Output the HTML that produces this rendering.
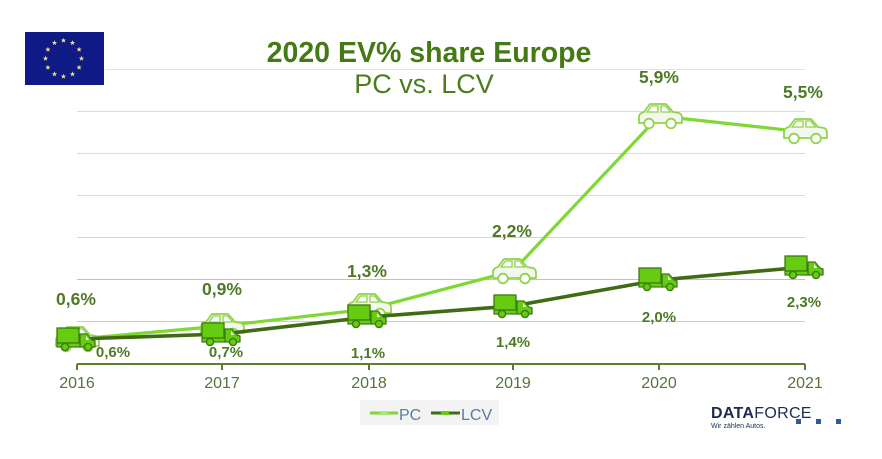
<!DOCTYPE html>
<html>
<head>
<meta charset="utf-8">
<style>
html,body{margin:0;padding:0;background:#fff;}
svg{display:block;}
text{font-family:"Liberation Sans",Arial,sans-serif;}
</style>
</head>
<body>
<svg width="882" height="459" viewBox="0 0 882 459" xmlns="http://www.w3.org/2000/svg">
<defs>
  <g id="car">
    <path d="M-21,7 L-21,0 Q-20,-3 -16,-4 L-10,-12 L6,-12 L13,-4 L19,-3 Q22,-2 22,2 L22,7 Z" fill="#f4f6f0" stroke="#8fd44a" stroke-width="1.8" stroke-linejoin="round"/>
    <path d="M-13,-4 L-8.5,-10 L-2,-10 L-2,-4 Z" fill="#fff" stroke="#8fd44a" stroke-width="1.3"/>
    <path d="M1,-4 L1,-10 L5.5,-10 L10.5,-4 Z" fill="#fff" stroke="#8fd44a" stroke-width="1.3"/>
    <circle cx="-11" cy="7.5" r="4.8" fill="#fff" stroke="#8fd44a" stroke-width="1.8"/>
    <circle cx="11" cy="7.5" r="4.8" fill="#fff" stroke="#8fd44a" stroke-width="1.8"/>
  </g>
  <g id="truck">
    <rect x="-19" y="-11" width="22" height="15" fill="#66cc11" stroke="#3d7a12" stroke-width="1.3"/>
    <path d="M4,-5 L11,-5 L16,1 L19,2 L19,8 L4,8 Z" fill="#66cc11" stroke="#3d7a12" stroke-width="1.3" stroke-linejoin="round"/>
    <rect x="-19" y="4" width="23" height="4" fill="#66cc11" stroke="#3d7a12" stroke-width="1.2"/>
    <path d="M10,-3 L13,1 L10,1 Z" fill="#fff"/>
    <circle cx="-11" cy="8" r="3.6" fill="#66cc11" stroke="#3d7a12" stroke-width="1.4"/>
    <circle cx="12" cy="8" r="3.6" fill="#66cc11" stroke="#3d7a12" stroke-width="1.4"/>
  </g>
  <polygon id="star" points="0,-2.8 0.66,-0.9 2.66,-0.87 1.07,0.34 1.65,2.27 0,1.1 -1.65,2.27 -1.07,0.34 -2.66,-0.87 -0.66,-0.9" fill="#efe27a"/>
</defs>

<!-- EU flag -->
<rect x="25" y="32" width="79" height="53" fill="#101a86"/>
<g transform="translate(63.5,58.5)">
  <use href="#star" x="0" y="-18"/>
  <use href="#star" x="9" y="-15.6"/>
  <use href="#star" x="15.6" y="-9"/>
  <use href="#star" x="18" y="0"/>
  <use href="#star" x="15.6" y="9"/>
  <use href="#star" x="9" y="15.6"/>
  <use href="#star" x="0" y="18"/>
  <use href="#star" x="-9" y="15.6"/>
  <use href="#star" x="-15.6" y="9"/>
  <use href="#star" x="-18" y="0"/>
  <use href="#star" x="-15.6" y="-9"/>
  <use href="#star" x="-9" y="-15.6"/>
</g>

<!-- gridlines -->
<g stroke-width="1">
  <line x1="105" y1="69.5" x2="805" y2="69.5" stroke="#e3e3e3"/>
  <line x1="77" y1="111.5" x2="805" y2="111.5" stroke="#dcdcdc"/>
  <line x1="77" y1="153.5" x2="805" y2="153.5" stroke="#dcdcdc"/>
  <line x1="77" y1="195.5" x2="805" y2="195.5" stroke="#dcdcdc"/>
  <line x1="77" y1="237.5" x2="805" y2="237.5" stroke="#d0d3dc"/>
  <line x1="77" y1="279.5" x2="805" y2="279.5" stroke="#b8c0dc"/>
  <line x1="77" y1="321.5" x2="805" y2="321.5" stroke="#c8cad6"/>
</g>

<!-- axis -->
<g stroke="#5b7d2e" stroke-width="2">
  <line x1="77" y1="364" x2="805" y2="364"/>
  <line x1="77" y1="364" x2="77" y2="370"/>
  <line x1="222" y1="364" x2="222" y2="370"/>
  <line x1="369" y1="364" x2="369" y2="370"/>
  <line x1="513" y1="364" x2="513" y2="370"/>
  <line x1="659" y1="364" x2="659" y2="370"/>
  <line x1="805" y1="364" x2="805" y2="370"/>
</g>
<g font-size="16" fill="#55733a" text-anchor="middle">
  <text x="77" y="388">2016</text>
  <text x="222" y="388">2017</text>
  <text x="369" y="388">2018</text>
  <text x="513" y="388">2019</text>
  <text x="659" y="388">2020</text>
  <text x="805" y="388">2021</text>
</g>

<!-- Title -->
<text x="429" y="62" font-size="28.5" font-weight="bold" fill="#447a14" text-anchor="middle">2020 EV% share Europe</text>
<text x="424" y="93" font-size="27" fill="#4b7d1e" text-anchor="middle">PC vs. LCV</text>

<!-- PC line -->
<polyline points="77,339 222,326 369,309 513,271 659,116 805,132" fill="none" stroke="#7fd834" stroke-width="3.2" stroke-linejoin="round"/>
<!-- cars -->
<use href="#car" x="77" y="339"/>
<use href="#car" x="222" y="326"/>
<use href="#car" x="369" y="306"/>
<use href="#car" x="514" y="271"/>
<use href="#car" x="660" y="116"/>
<use href="#car" x="805" y="131"/>

<!-- LCV line -->
<polyline points="77,339 222,334 369,317 513,306 659,280 805,267" fill="none" stroke="#3f6b14" stroke-width="3.6" stroke-linejoin="round"/>
<use href="#truck" x="76" y="339"/>
<use href="#truck" x="221" y="334"/>
<use href="#truck" x="367" y="316"/>
<use href="#truck" x="513" y="306"/>
<use href="#truck" x="658" y="279"/>
<use href="#truck" x="804" y="267"/>

<!-- data labels -->
<g font-size="17.5" font-weight="bold" fill="#4e7a26" text-anchor="middle">
  <text x="76" y="305">0,6%</text>
  <text x="222" y="295">0,9%</text>
  <text x="367" y="277">1,3%</text>
  <text x="512" y="237">2,2%</text>
  <text x="659" y="83">5,9%</text>
  <text x="803" y="98">5,5%</text>
</g>
<g font-size="15" font-weight="bold" fill="#4e7a26" text-anchor="middle">
  <text x="113" y="357">0,6%</text>
  <text x="226" y="357">0,7%</text>
  <text x="368" y="358">1,1%</text>
  <text x="513" y="347">1,4%</text>
  <text x="659" y="322">2,0%</text>
  <text x="804" y="307">2,3%</text>
</g>

<!-- legend -->
<rect x="360" y="400" width="139" height="25" fill="#f3f3f3"/>
<line x1="370" y1="413" x2="398" y2="413" stroke="#7fd834" stroke-width="3"/>
<rect x="380" y="411" width="8" height="4" fill="#a8e67a"/>
<text x="399" y="420" font-size="16" fill="#5a7aa8">PC</text>
<line x1="431" y1="413" x2="460" y2="413" stroke="#3f6b14" stroke-width="3"/>
<rect x="441" y="411" width="8" height="4" fill="#66cc11"/>
<text x="461" y="420" font-size="16" fill="#5a7aa8">LCV</text>

<!-- Dataforce logo -->
<text x="711" y="418" font-size="16" fill="#1c2b4e" letter-spacing="0.3"><tspan font-weight="bold">DATA</tspan><tspan>FORCE</tspan></text>
<text x="711" y="428" font-size="7" fill="#1c2b4e">Wir zählen Autos.</text>
<rect x="796" y="419" width="5" height="5" fill="#2f5aa0"/>
<rect x="816" y="419" width="5" height="5" fill="#2f5aa0"/>
<rect x="836" y="419" width="5" height="5" fill="#2f5aa0"/>
</svg>
</body>
</html>
